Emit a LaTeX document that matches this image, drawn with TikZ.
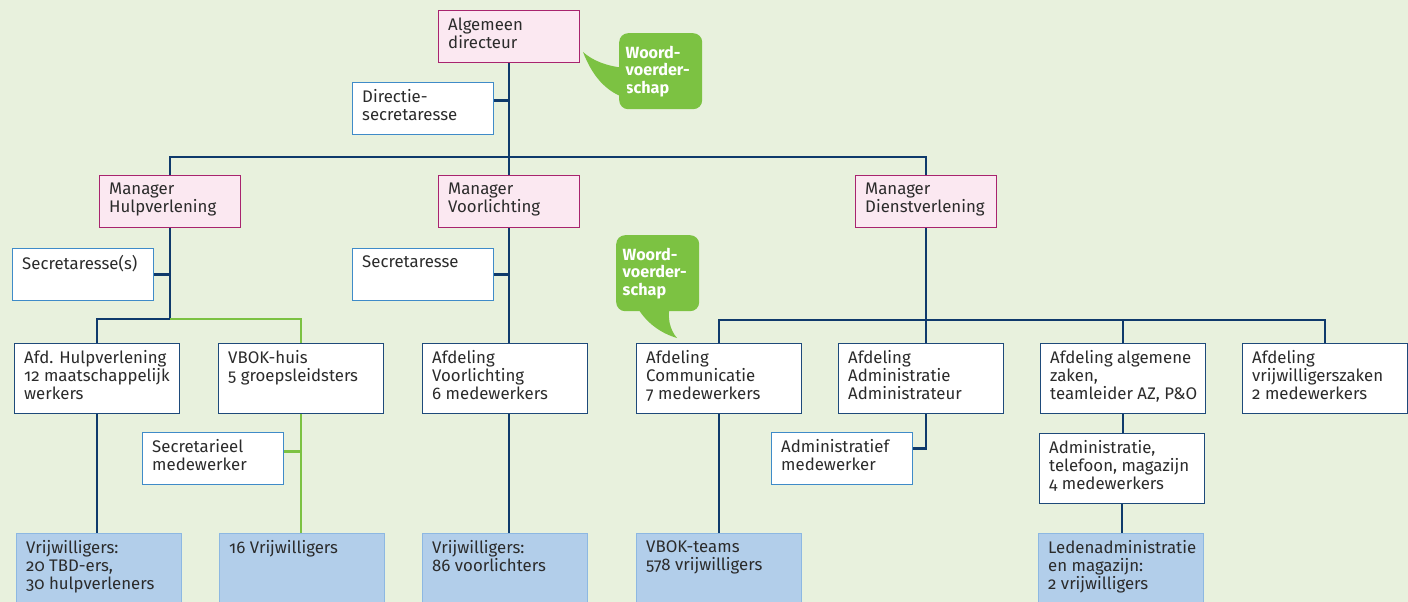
\documentclass[tikz,border=0pt]{standalone}
\usepackage{fontspec}
\setmainfont{Fira Sans}[Numbers=OldStyle]
\definecolor{achtergrond}{HTML}{E8F1DD}
\definecolor{marine}{HTML}{0F3A6B}
\definecolor{afdrand}{HTML}{1E4A7A}
\definecolor{stafrand}{HTML}{3F8BC8}
\definecolor{mgrvul}{HTML}{FBE8F1}
\definecolor{mgrrand}{HTML}{A8246E}
\definecolor{vrwvul}{HTML}{B2CEEA}
\definecolor{vrwrand}{HTML}{8DB8E2}
\definecolor{groenlijn}{HTML}{7CC242}
\definecolor{tekstkleur}{HTML}{2B2B2B}
\tikzset{
  box/.style={draw, anchor=north west, inner sep=0pt, line width=1.3pt},
  mgr/.style={box, draw=mgrrand, fill=mgrvul, minimum width=141pt, minimum height=52pt},
  staf/.style={box, draw=stafrand, fill=white, minimum width=141pt, minimum height=52pt},
  afd/.style={box, draw=afdrand, fill=white, minimum width=165pt, minimum height=70pt},
  vrw/.style={box, draw=vrwrand, fill=vrwvul, minimum width=165pt, minimum height=90pt},
  tekst/.style={anchor=north west, align=left, inner xsep=10pt, inner ysep=7.5pt, text=tekstkleur, font=\fontsize{16.8}{18}\selectfont},
  bubbel/.style={anchor=north west, fill=groenlijn, rounded corners=9pt, minimum width=83pt, minimum height=76pt, text width=70pt, inner xsep=6.5pt, align=left, text=white, font=\fontsize{16.2}{17.5}\selectfont\bfseries},
  lijn/.style={draw=marine, line width=2.4pt},
  groen/.style={draw=groenlijn, line width=2.4pt}
}
\begin{document}
\begin{tikzpicture}[x=1pt,y=-1pt]
\useasboundingbox (0,0) rectangle (1408,602);
\fill[achtergrond] (0,0) rectangle (1408,602);
\clip (0,0) rectangle (1408,602);

\node[mgr, label={[tekst]north west:{Algemeen\\directeur}}] (dir) at (438,10) {};
\node[staf, label={[tekst]north west:{Directie-\\secretaresse}}] (dsec) at (352,82) {};

\node[mgr, label={[tekst]north west:{Manager\\Hulpverlening}}] (mhv) at (99,175) {};
\node[mgr, label={[tekst]north west:{Manager\\Voorlichting}}] (mvl) at (438,175) {};
\node[mgr, label={[tekst]north west:{Manager\\Dienstverlening}}] (mdv) at (855,175) {};
\node[staf, label={[tekst]north west:{Secretaresse(s)}}] (shv) at (12,248) {};
\node[staf, label={[tekst]north west:{Secretaresse}}] (svl) at (352,248) {};

\node[afd, label={[tekst]north west:{Afd. Hulpverlening\\12 maatschappelijk\\werkers}}] (ahv) at (14,343) {};
\node[afd, label={[tekst]north west:{VBOK-huis\\5 groepsleidsters}}] (vbok) at (218,343) {};
\node[staf, label={[tekst]north west:{Secretarieel\\medewerker}}] (smw) at (142,432) {};
\node[afd, label={[tekst]north west:{Afdeling\\Voorlichting\\6 medewerkers}}] (avl) at (422,343) {};
\node[afd, label={[tekst]north west:{Afdeling\\Communicatie\\7 medewerkers}}] (acom) at (636,343) {};
\node[afd, label={[tekst]north west:{Afdeling\\Administratie\\Administrateur}}] (aadm) at (838,343) {};
\node[staf, label={[tekst]north west:{Administratief\\medewerker}}] (amw) at (771,432) {};
\node[afd, label={[tekst]north west:{Afdeling algemene\\zaken,\\teamleider AZ, P\&O}}] (aaz) at (1040,343) {};
\node[afd, label={[tekst]north west:{Administratie,\\telefoon, magazijn\\4 medewerkers}}] (atm) at (1039,433) {};
\node[afd, label={[tekst]north west:{Afdeling\\vrijwilligerszaken\\2 medewerkers}}] (avz) at (1242,343) {};

\node[vrw, label={[tekst]north west:{Vrijwilligers:\\20 TBD-ers,\\30 hulpverleners}}] (vhv) at (16,533) {};
\node[vrw, label={[tekst]north west:{16 Vrijwilligers}}] (vvb) at (219,533) {};
\node[vrw, label={[tekst]north west:{Vrijwilligers:\\86 voorlichters}}] (vvl) at (422,533) {};
\node[vrw, label={[tekst]north west:{VBOK-teams\\578 vrijwilligers}}] (vcom) at (636,533) {};
\node[vrw, label={[tekst]north west:{Ledenadministratie\\en magazijn:\\2 vrijwilligers}}] (vled) at (1038,533) {};

\node[bubbel] (wv1) at (619,33) {Woord-\\voerder-\\schap};
\fill[groenlijn] (625,68) .. controls (605,66) and (592,60) .. (583,52) .. controls (592,75) and (605,92) .. (628,99) -- cycle;
\node[bubbel] (wv2) at (616,235) {Woord-\\voerder-\\schap};
\fill[groenlijn] (636,305) .. controls (645,322) and (660,333) .. (677,338) .. controls (670,330) and (667,318) .. (670,305) -- cycle;

\coordinate (mb) at (0,157); \coordinate (hb) at (0,319); \coordinate (db) at (0,320);
\draw[lijn] (dir.south) -- (mvl.north);
\draw[lijn] ([yshift=8pt]dsec.east) -- ([yshift=8pt]dsec.east -| dir.south);
\draw[lijn] (mhv.north) -- (mhv.north |- mb) -- (mdv.north |- mb) -- (mdv.north);
\draw[lijn] (shv.east) -- (shv.east -| mhv.south);
\draw[lijn] (mhv.south) -- (mhv.south |- hb) -| (ahv.north);
\draw[groen] (mhv.south |- hb) -| (vbok.north);
\draw[lijn] (ahv.south) -- (ahv.south |- vhv.north);
\draw[groen] (vbok.south) -- (vbok.south |- vvb.north);
\draw[groen] ([yshift=7pt]smw.east) -- ([yshift=7pt]smw.east -| vbok.south);
\draw[lijn] (svl.east) -- (svl.east -| mvl.south);
\draw[lijn] (mvl.south) -- (mvl.south |- avl.north); \draw[lijn] (mvl.south |- avl.south) -- (mvl.south |- vvl.north);
\draw[lijn] (mdv.south) -- (mdv.south |- aadm.north);
\draw[lijn] (acom.north) |- (db -| avz.north) -- (avz.north);
\draw[lijn] (aaz.north) -- (aaz.north |- db);
\draw[lijn] (acom.south) -- (acom.south |- vcom.north);
\draw[lijn] (aadm.south -| mdv.south) |- ([yshift=10pt]amw.east);
\draw[lijn] (aaz.south) -- (aaz.south |- atm.north);
\draw[lijn] (atm.south) -- (atm.south |- vled.north);
\end{tikzpicture}
\end{document}
